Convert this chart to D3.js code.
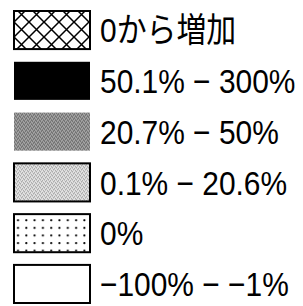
<!DOCTYPE html>
<html>
<head>
<meta charset="utf-8">
<script src="https://cdn.jsdelivr.net/npm/d3@7"></script>
<style>
  body { margin: 0; background: #fff; }
  text { font-family: "Liberation Sans", Arial, "Noto Sans CJK JP", sans-serif; }
</style>
</head>
<body>
<div id="chart"></div>
<script>
// legend categories (top to bottom)
var labels = ["0から増加", "50.1% − 300%", "20.7% − 50%", "0.1% − 20.6%", "0%", "−100% − −1%"];
var fills = ["url(#hatch)", "#000", "url(#darkgray)", "url(#lightgray)", "url(#dots)", "#fff"];
var borders = [true, false, false, true, true, true];

var outerWidth = 303,
    outerHeight = 306;

var svg = d3.select("#chart").append("svg")
    .attr("width", outerWidth)
    .attr("height", outerHeight);

var defs = svg.append("defs");

// cross hatch
var hatch = defs.append("pattern")
    .attr("id", "hatch")
    .attr("patternUnits", "userSpaceOnUse")
    .attr("width", 15).attr("height", 15)
    .attr("x", 14).attr("y", 11);
hatch.append("rect").attr("width", 15).attr("height", 15).attr("fill", "#fff");
hatch.append("path")
    .attr("d", "M0,0L15,15M15,0L0,15M-2,13L2,17M13,-2L17,2M-2,2L2,-2M13,17L17,13")
    .attr("stroke", "#000").attr("stroke-width", 1.5);

// grainy grays
function grain(id, a, b) {
  var p = defs.append("pattern")
      .attr("id", id)
      .attr("patternUnits", "userSpaceOnUse")
      .attr("width", 4).attr("height", 4);
  p.append("rect").attr("width", 4).attr("height", 4).attr("fill", a);
  p.append("rect").attr("x", 0).attr("y", 0).attr("width", 1).attr("height", 1).attr("fill", b);
  p.append("rect").attr("x", 2).attr("y", 1).attr("width", 1).attr("height", 1).attr("fill", b);
  p.append("rect").attr("x", 1).attr("y", 2).attr("width", 1).attr("height", 1).attr("fill", b);
  p.append("rect").attr("x", 3).attr("y", 3).attr("width", 1).attr("height", 1).attr("fill", b);
}
grain("darkgray", "#a0a0a0", "#505050");
grain("lightgray", "#e0e0e0", "#909090");

// dots
var dots = defs.append("pattern")
    .attr("id", "dots")
    .attr("patternUnits", "userSpaceOnUse")
    .attr("width", 8.3).attr("height", 7.6)
    .attr("x", 14).attr("y", 215);
dots.append("rect").attr("width", 8.3).attr("height", 7.6).attr("fill", "#fff");
dots.append("circle").attr("cx", 4).attr("cy", 4).attr("r", 1.1).attr("fill", "#000");

var y = d3.scaleBand()
    .domain(d3.range(labels.length))
    .range([11, 303])
    .paddingInner(0.25);

var rows = svg.selectAll("g.row")
    .data(labels)
    .enter().append("g")
    .attr("class", "row")
    .attr("transform", function(d, i) { return "translate(0," + y(i) + ")"; });

rows.append("rect")
    .attr("x", 14)
    .attr("width", 76)
    .attr("height", y.bandwidth())
    .attr("fill", function(d, i) { return fills[i]; })
    .attr("stroke", function(d, i) { return borders[i] ? "#000" : "none"; })
    .attr("stroke-width", 2);

// condensed look: squeeze text horizontally
rows.append("text")
    .attr("transform", "translate(100," + (y.bandwidth() / 2) + ") scale(0.88,1)")
    .attr("dy", "0.36em")
    .attr("font-size", 34)
    .attr("fill", "#000")
    .text(function(d) { return d; });
</script>
</body>
</html>
